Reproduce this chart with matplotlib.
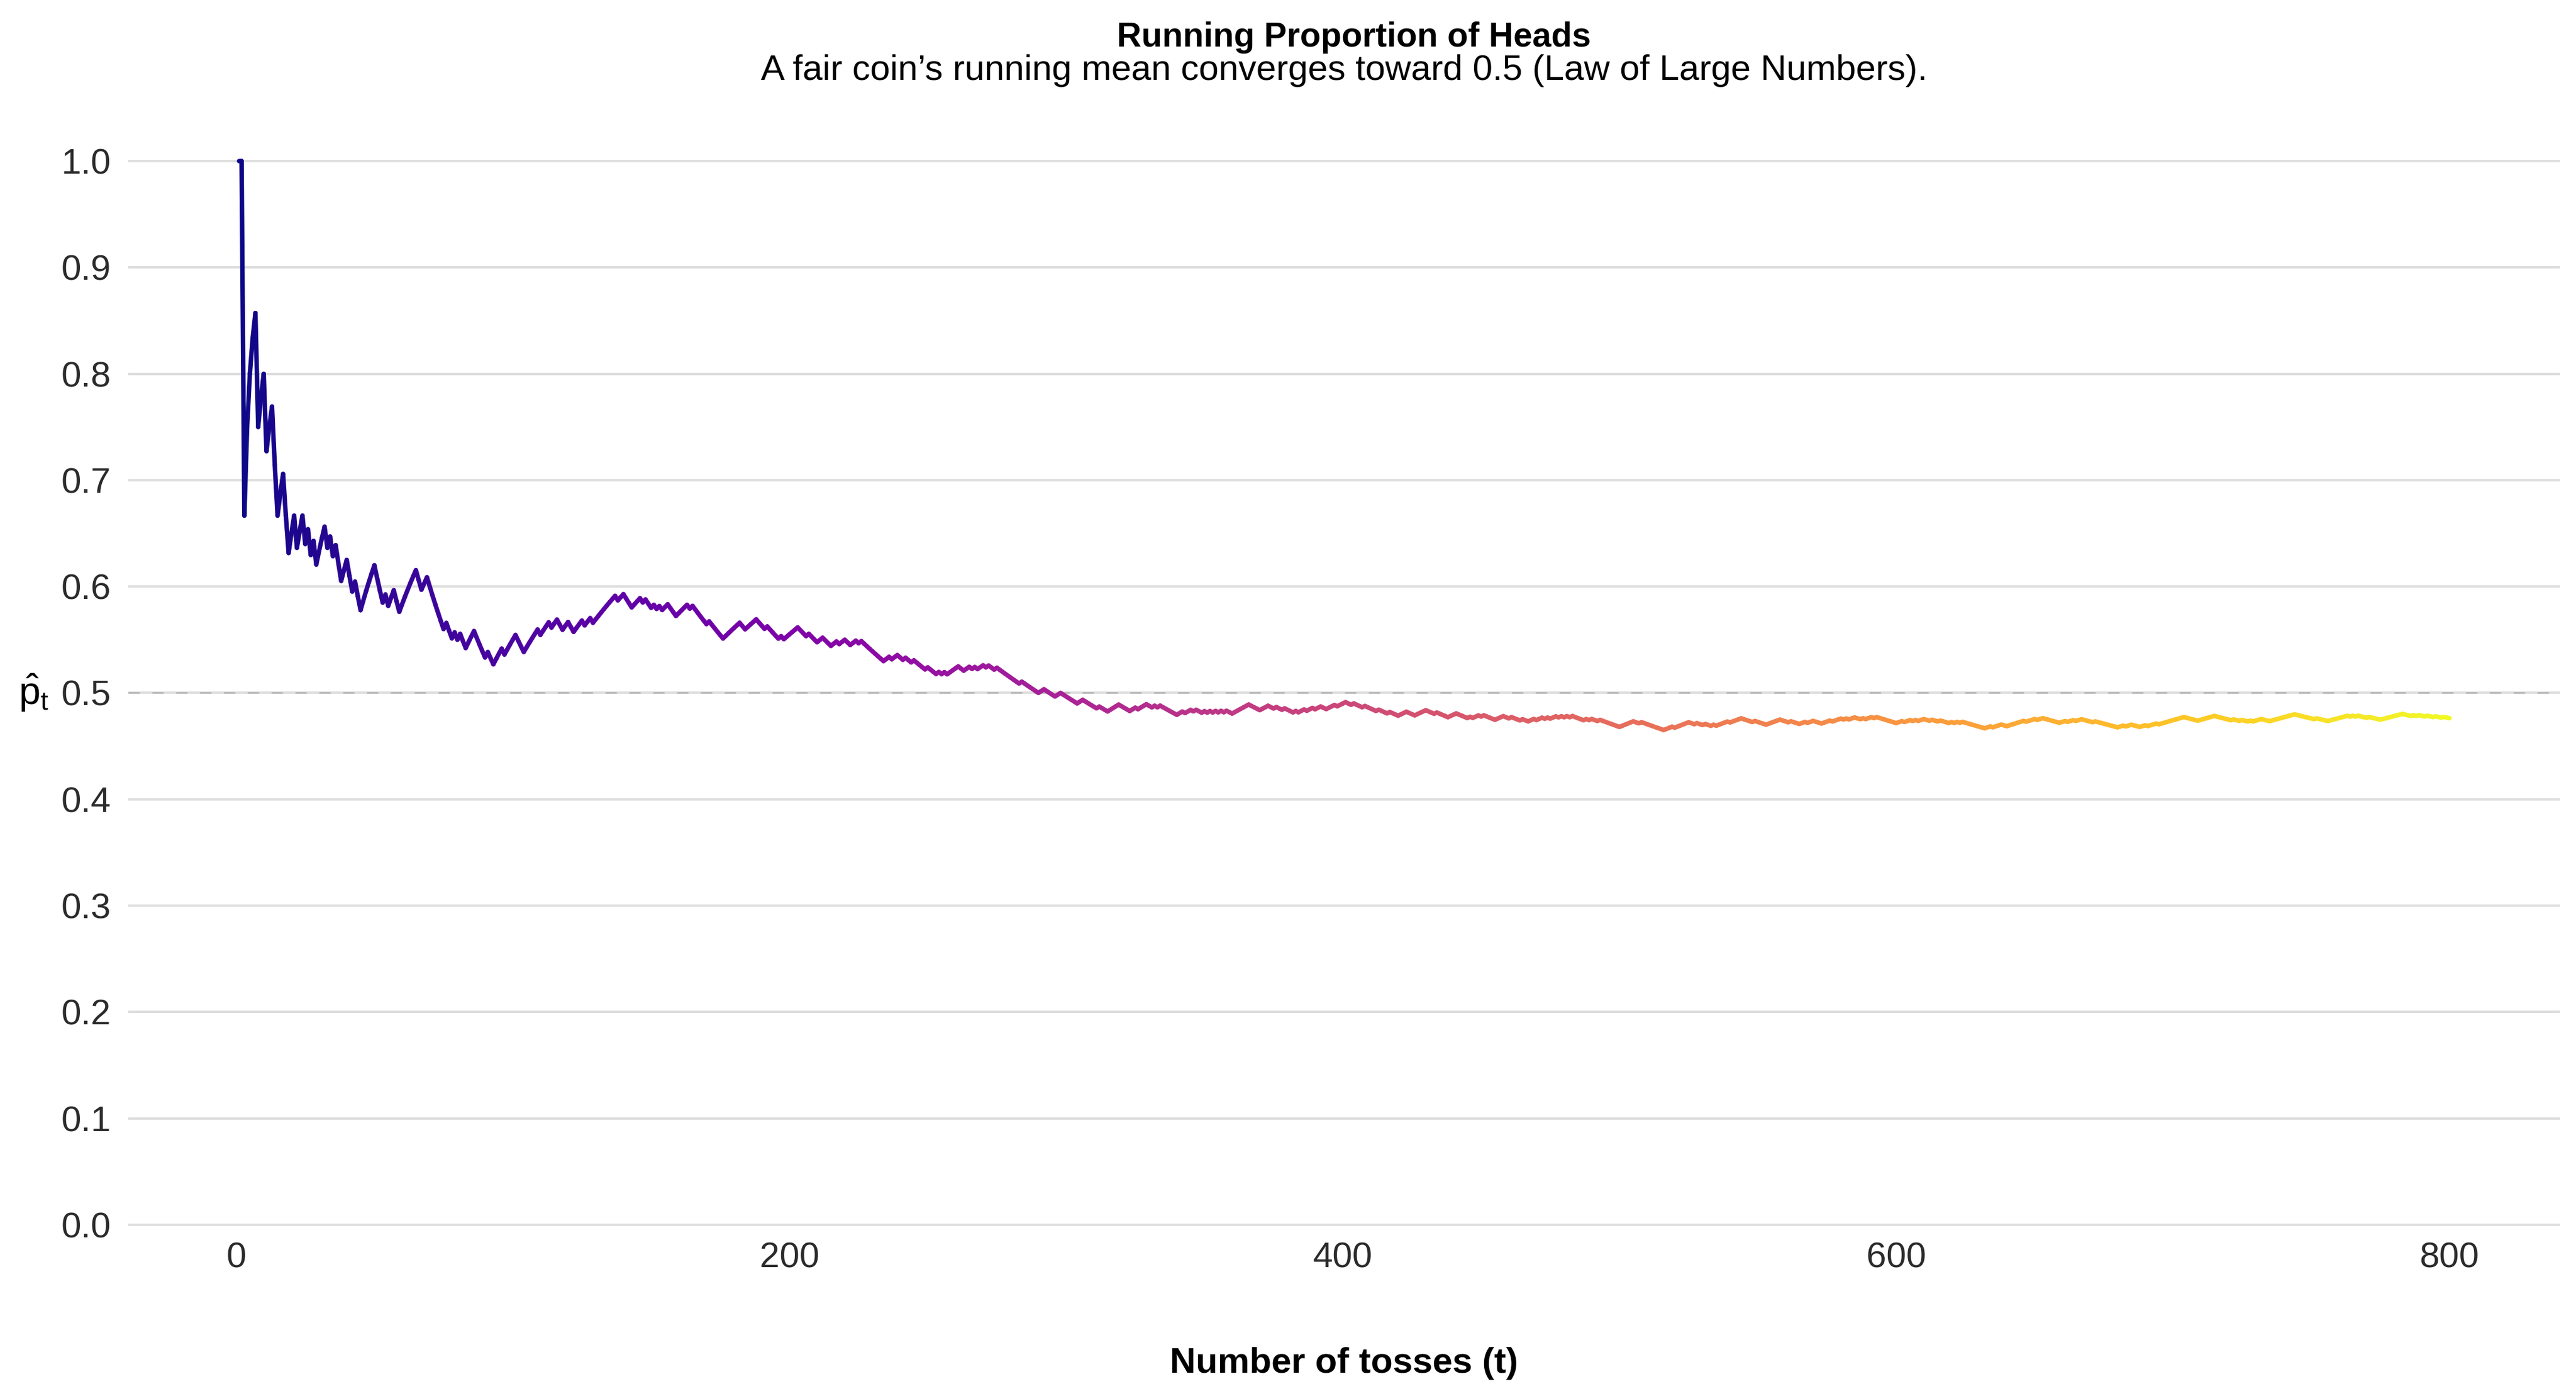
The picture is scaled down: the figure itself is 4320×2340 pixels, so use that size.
import numpy as np
import matplotlib
matplotlib.use("Agg")
import matplotlib.pyplot as plt
from matplotlib.collections import LineCollection

# ---------------- data (toss outcomes read from the running-mean path) -------------
# each string = 10 consecutive tosses (H = heads, T = tails), tosses 1..800
toss_rows = [
    "HHTHHHHTHH", "THHTTHHTTH", "HTHHTHTHTH", "HHTHTHTTHH", "TTHTTHHHHH",
    "TTTHTHHTTH", "HHHHHTTHHT", "TTTTTHTTHT", "HTTHHHTTTT", "HTTHHHTHHH",
    "HTTTHHHHHT", "HHHTHHTTHH", "TTHHHTHHTH", "HHHHHHHTHH", "TTTHHHTHTT",
    "HTHTHHTTTH", "HHHTHTTTTT", "HTTTTTHHHH", "HHTTHHHHTT", "THTTTTHTHH",
    "HHHTTTHTTT", "HHTTTHHTHH", "TTHHTHTTTT", "TTTTHHTHHT", "THTTHTTTTH",
    "TTTHTHTHHH", "HTTHHTHTHH", "THTTHTTTTT", "TTTHTTTTTT", "HHTTTTHHTT",
    "TTTTHHTTTT", "THTTTHHHHT", "TTTHHTHHHT", "THTHTTTTTT", "HHTHHTHTTH",
    "THTHTHTHTT", "HHHHHHTTTT", "HHHTTHTTHT", "TTHTHHTHHT", "HHTTHHHTHH",
    "HTTHTTTHTT", "TTHTTTHTTT", "HHHTTTHHHH", "TTTHTTTTHH", "HTTTTHTHHT",
    "HTTTTHHHTT", "HTTTHTTHHT", "HHTHTHHTHT", "HTHTTTTHTH", "TTHTTTTTTT",
    "HHHHHTTHTT", "TTTTTTHHHT", "HHHHHTTHTT", "HTTHTHHHHT", "HHHHTTTTHT",
    "TTTHHHHHTT", "THTTTHHTHH", "TTTHHHTHHH", "THTHHTTHTH", "HTHTTTTTTT",
    "HHTHHTHTHH", "TTHTTHTTTH", "THTHTTTTTT", "TTHHTHHHTT", "HHHHHHTHHH",
    "THHTTTTTTH", "HTHHTHHTTT", "THTTTTTTTT", "HHTHHTTTHH", "THHHTHHHHH",
    "HHHHTTTTTH", "HHHHHTTTTT", "THTTHTTHTH", "HHTTTHHHHH", "HHHHTTTTTT",
    "THTTTTHHHH", "HHHTHTHTTT", "HTTTTHHHHH", "HHHTTTHTHT", "THTTHTTHTT",
]
tosses = "".join(toss_rows)
assert len(tosses) == 800

heads = np.array([1 if c == "H" else 0 for c in tosses])
t = np.arange(1, heads.size + 1)
p_hat = np.cumsum(heads) / t

title = "Running Proportion of Heads"
subtitle = "A fair coin\u2019s running mean converges toward 0.5 (Law of Large Numbers)."
x_label = "Number of tosses (t)"
y_label = r"$\hat{\mathrm{p}}_{\mathrm{t}}$"
x_ticks = [0, 200, 400, 600, 800]
y_ticks = [0.0, 0.1, 0.2, 0.3, 0.4, 0.5, 0.6, 0.7, 0.8, 0.9, 1.0]
y_tick_labels = ["0.0", "0.1", "0.2", "0.3", "0.4", "0.5", "0.6", "0.7", "0.8", "0.9", "1.0"]
reference_level = 0.5

# ---------------- style ----------------
plt.rcParams["font.family"] = ["Liberation Sans", "DejaVu Sans"]
plt.rcParams["mathtext.fontset"] = "custom"
plt.rcParams["mathtext.rm"] = "Liberation Sans"
plt.rcParams["mathtext.it"] = "Liberation Sans:italic"
plt.rcParams["mathtext.bf"] = "Liberation Sans:bold"

fig = plt.figure(figsize=(12, 6.5), dpi=360)
ax_left, ax_bottom, ax_width, ax_height = 0.0498, 0.11504, 0.9440, 0.77722
ax = fig.add_axes([ax_left, ax_bottom, ax_width, ax_height])

span = t.max() - t.min()
ax.set_xlim(t.min() - 0.05 * span, t.max() + 0.05 * span)
ax.set_ylim(-0.01, 1.01)

# horizontal grid only
ax.set_yticks(y_ticks)
ax.set_yticklabels(y_tick_labels)
ax.set_xticks(x_ticks)
ax.yaxis.grid(True, color="#dedede", linewidth=0.8, zorder=0)
ax.xaxis.grid(False)
ax.set_axisbelow(True)
for s in ax.spines.values():
    s.set_visible(False)

# reference line at 0.5
ax.axhline(reference_level, color="#b3b3b3", linewidth=0.5,
           linestyle=(0, (7.6, 8.4)), zorder=1)

# running proportion line coloured along t (plasma)
pts = np.column_stack([t, p_hat]).reshape(-1, 1, 2)
segs = np.concatenate([pts[:-1], pts[1:]], axis=1)
lc = LineCollection(segs, cmap="plasma",
                    norm=plt.Normalize(t.min(), t.max()),
                    linewidths=1.5, capstyle="round", joinstyle="round", zorder=3)
lc.set_array((t[:-1] + t[1:]) / 2.0)
ax.add_collection(lc)

ax.tick_params(axis="both", length=0, labelsize=12, labelcolor="#2b2b2b")
ax.tick_params(axis="x", pad=2.2)
ax.tick_params(axis="y", pad=5.9)

ax.set_xlabel(x_label, fontsize=12, fontweight="bold", color="black")
ax.xaxis.set_label_coords(0.5, -0.1183)
ax.xaxis.label.set_va("center")

ax.set_ylabel(y_label, fontsize=13, rotation=0, color="black")
ax.yaxis.set_label_coords(-0.039, 0.5 / 1.02 + 0.01 / 1.02)
ax.yaxis.label.set_va("center")
ax.yaxis.label.set_ha("center")

cx = ax_left + ax_width / 2
fig.text(cx + 0.0038, 0.9729, title, ha="center", va="center", fontsize=11.4,
         fontweight="bold", color="black")
fig.text(cx, 0.9492, subtitle, ha="center", va="center", fontsize=12,
         color="black")

fig.savefig("out.png", dpi=360, facecolor="white")
